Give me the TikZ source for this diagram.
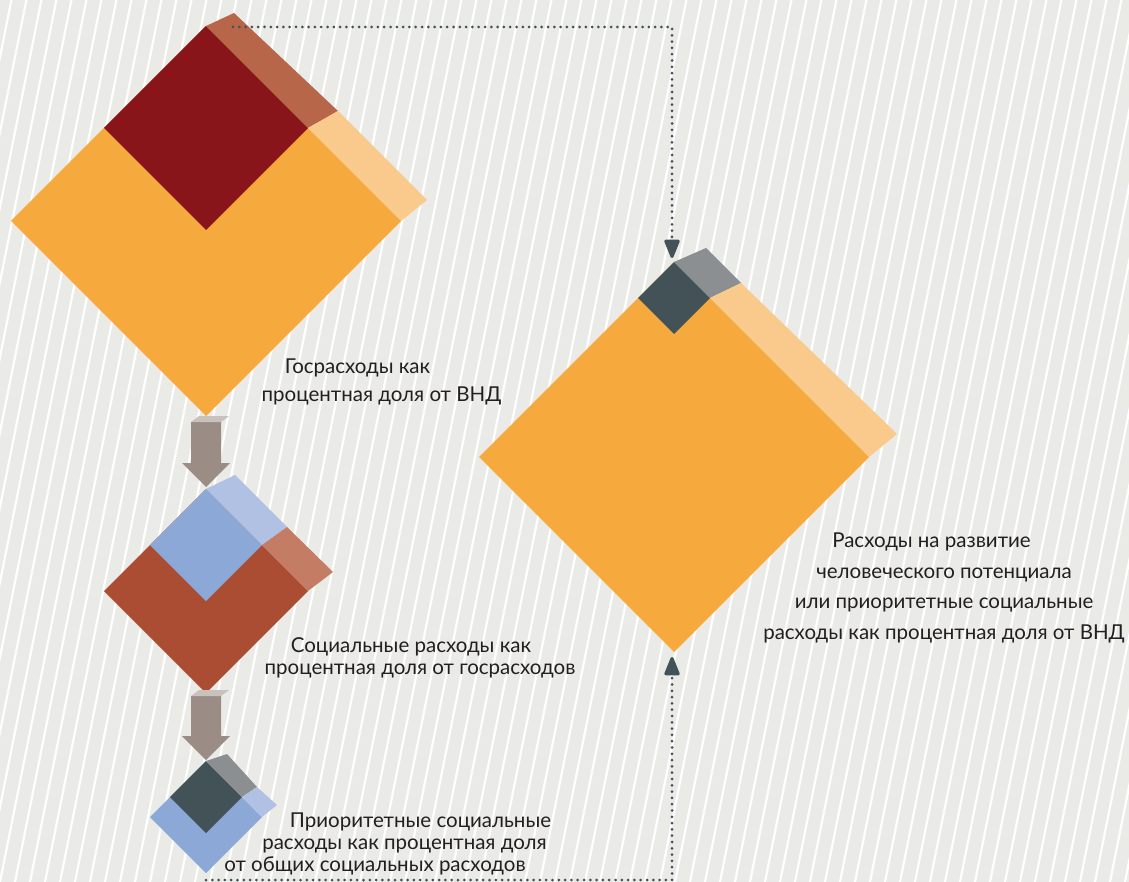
\documentclass[tikz,border=0pt]{standalone}
\usepackage{fontspec}
\setmainfont{Lato}
\usetikzlibrary{arrows.meta}
\definecolor{bgGrey}{HTML}{EAEAE6}
\definecolor{orangeMain}{HTML}{F6A93C}
\definecolor{orangeLight}{HTML}{F9CA8C}
\definecolor{redDark}{HTML}{88151A}
\definecolor{redMuted}{HTML}{B8664A}
\definecolor{rustMain}{HTML}{AA4D33}
\definecolor{rustLight}{HTML}{C47C64}
\definecolor{blueMain}{HTML}{8BA8D7}
\definecolor{blueLight}{HTML}{B0C1E3}
\definecolor{slateDark}{HTML}{435257}
\definecolor{slateLight}{HTML}{8B8F92}
\definecolor{arrowGrey}{HTML}{9B8D86}
\definecolor{arrowTop}{HTML}{C9C1BC}
\definecolor{textBlack}{HTML}{231F20}
\tikzset{
  stripe/.style={white, line width=2.2pt},
  dotline/.style={draw=slateDark, line width=3pt, line cap=round,
    dash pattern=on 0pt off 6.3pt, -{Triangle[width=16pt,length=21pt,round]}},
  txt/.style={text=textBlack, align=center, inner sep=0pt}
}
\begin{document}
\begin{tikzpicture}[x=1pt, y=-1pt]
  \useasboundingbox (0,0) rectangle (1129,882);
  \fill[bgGrey] (0,0) rectangle (1129,882);
  \begin{scope}
    \clip (0,0) rectangle (1129,882);
    \foreach \i in {-13,...,76}
      \draw[stripe] (\i*15, 882) -- ++(176.4, -882);
  \end{scope}
  % Gov
  \fill[orangeMain] (206,26) -- (401,221) -- (206,416) -- (11,221) -- cycle;
  \fill[redDark] (206,26) -- (308,128) -- (206,230) -- (104,128) -- cycle;
  \fill[redMuted] (206,26) -- (234,13) -- (338,111) -- (308,128) -- cycle;
  \fill[orangeLight] (308,128) -- (338,111) -- (427,200) -- (401,221) -- cycle;
  % HD
  \fill[orangeMain] (674,262) -- (869,457) -- (674,652) -- (479,457) -- cycle;
  \fill[slateDark] (674,262) -- (710,298) -- (674,334) -- (638,298) -- cycle;
  \fill[slateLight] (674,262) -- (706,248) -- (741,283) -- (710,298) -- cycle;
  \fill[orangeLight] (710,298) -- (741,283) -- (897,434) -- (869,457) -- cycle;
  % Soc
  \fill[rustMain] (206,489) -- (308,591) -- (206,693) -- (104,591) -- cycle;
  \fill[blueMain] (206,489) -- (262,545) -- (206,601) -- (150,545) -- cycle;
  \fill[blueLight] (206,489) -- (235,475) -- (287,527) -- (262,545) -- cycle;
  \fill[rustLight] (262,545) -- (287,527) -- (333,572) -- (308,591) -- cycle;
  % Pri
  \fill[blueMain] (206,761) -- (262,817) -- (206,873) -- (150,817) -- cycle;
  \fill[slateDark] (206,761) -- (242,797) -- (206,833) -- (170,797) -- cycle;
  \fill[slateLight] (206,761) -- (227,754) -- (257,787) -- (242,797) -- cycle;
  \fill[blueLight] (242,797) -- (257,787) -- (277,805) -- (262,817) -- cycle;
  % block arrows
  \fill[arrowGrey] (191,422) -- (221,422) -- (221,463) -- (230,463) -- (206,487) -- (182,463) -- (191,463) -- cycle;
  \fill[arrowTop] (191,422) -- (199,416) -- (229,416) -- (221,422) -- cycle;
  \fill[arrowGrey] (191,696) -- (221,696) -- (221,736) -- (230,736) -- (206,760) -- (182,736) -- (191,736) -- cycle;
  \fill[arrowTop] (191,696) -- (199,690) -- (229,690) -- (221,696) -- cycle;

  \coordinate (govTop) at (233,27);
  \coordinate (priBot) at (206,880);
  \coordinate (hdTop) at (672,258);
  \coordinate (hdBot) at (672,657);
  \draw[dotline] (govTop) -| (hdTop);
  \draw[dotline] (priBot) -| (hdBot);

  \node[txt, font=\fontsize{20.5}{28}\selectfont] (gov) at (381.5,382)
    {Госрасходы как\hspace*{48pt}\\процентная доля от ВНД};
  \node[txt, font=\fontsize{20.5}{22}\selectfont] (soc) at (420,658)
    {Социальные расходы как\hspace*{18pt}\\процентная доля от госрасходов};
  \node[txt, font=\fontsize{20.5}{22}\selectfont] (pri) at (375,844)
    {\hspace*{91pt}Приоритетные социальные\\\hspace*{59pt}расходы как процентная доля\\от общих социальных расходов};
  \node[txt, font=\fontsize{20.5}{30.7}\selectfont] (hd) at (944,588)
    {Расходы на развитие\hspace*{25pt}\\человеческого потенциала\hspace*{35pt}\\или приоритетные социальные\hspace*{17pt}\\расходы как процентная доля от ВНД};
\end{tikzpicture}
\end{document}
